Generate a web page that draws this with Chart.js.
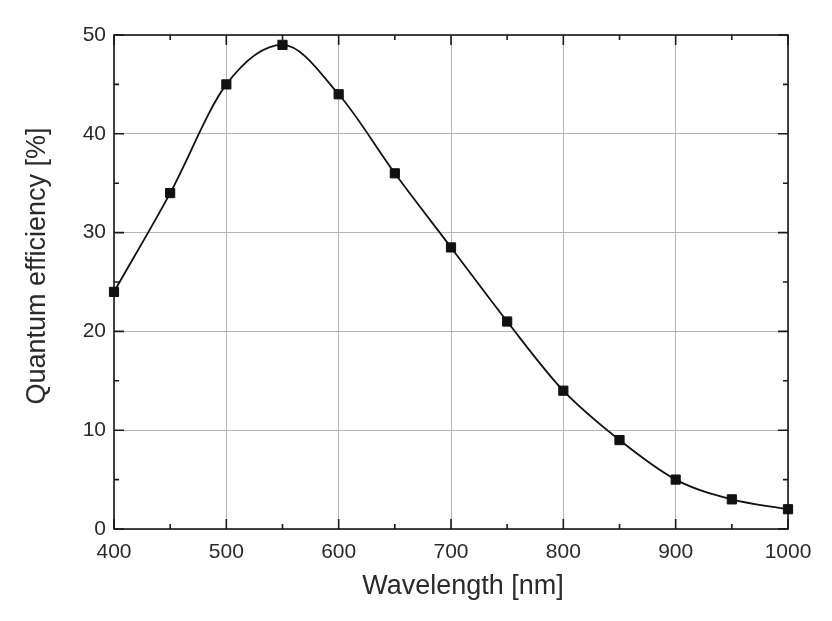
<!DOCTYPE html>
<html>
<head>
<meta charset="utf-8">
<script src="https://cdn.jsdelivr.net/npm/chart.js@4/dist/chart.umd.min.js"></script>
<style>
  html, body { margin: 0; padding: 0; background: #fff; }
  #wrap { width: 832px; height: 621px; }
</style>
</head>
<body>
<div id="wrap"><canvas id="qe-chart"></canvas></div>
<script>
const wavelengths = [400, 450, 500, 550, 600, 650, 700, 750, 800, 850, 900, 950, 1000];
const efficiency = [24, 34, 45, 49, 44, 36, 28.5, 21, 14, 9, 5, 3, 2];

const xMajor = [400, 500, 600, 700, 800, 900, 1000];
const xMinor = [450, 550, 650, 750, 850, 950];
const yMajor = [0, 10, 20, 30, 40, 50];
const yMinor = [5, 15, 25, 35, 45];

const xTitle = "Wavelength [nm]";
const yTitle = "Quantum efficiency [%]";

const textColor = "#2a2a2a";
const fontFamily = "'Liberation Sans', Arial, sans-serif";

// inward ticks on all four sides + frame
const frameTicks = {
  id: "frameTicks",
  beforeDatasetsDraw(chart) {
    const { ctx, chartArea: a, scales } = chart;
    const x = scales.x;
    const y = scales.y;
    ctx.save();
    ctx.strokeStyle = "#1a1a1a";
    ctx.lineWidth = 1.6;

    const tick = (px, len, vertical) => {
      ctx.beginPath();
      if (vertical) {
        ctx.moveTo(px, a.bottom);
        ctx.lineTo(px, a.bottom - len);
        ctx.moveTo(px, a.top);
        ctx.lineTo(px, a.top + len);
      } else {
        ctx.moveTo(a.left, px);
        ctx.lineTo(a.left + len, px);
        ctx.moveTo(a.right, px);
        ctx.lineTo(a.right - len, px);
      }
      ctx.stroke();
    };

    xMajor.forEach((v) => tick(x.getPixelForValue(v), 10, true));
    xMinor.forEach((v) => tick(x.getPixelForValue(v), 5, true));
    yMajor.forEach((v) => tick(y.getPixelForValue(v), 10, false));
    yMinor.forEach((v) => tick(y.getPixelForValue(v), 5, false));

    ctx.strokeRect(a.left, a.top, a.right - a.left, a.bottom - a.top);
    ctx.restore();
  },
};

// axis titles, placed a bit off-centre like the original figure
const axisTitles = {
  id: "axisTitles",
  afterDraw(chart) {
    const { ctx, chartArea: a } = chart;
    ctx.save();
    ctx.fillStyle = textColor;
    ctx.font = "27px " + fontFamily;
    ctx.textAlign = "center";
    ctx.textBaseline = "middle";
    ctx.fillText(xTitle, (a.left + a.right) / 2 + 12, a.bottom + 58);

    ctx.translate(a.left - 76, (a.top + a.bottom) / 2 - 16);
    ctx.rotate(-Math.PI / 2);
    ctx.fillText(yTitle, 0, 0);
    ctx.restore();
  },
};

const chartCanvas = document.getElementById("qe-chart").getContext("2d");

new Chart(chartCanvas, {
  type: "line",
  data: {
    datasets: [
      {
        label: "Quantum efficiency",
        data: wavelengths.map((w, i) => ({ x: w, y: efficiency[i] })),
        borderColor: "#111",
        backgroundColor: "#111",
        borderWidth: 1.8,
        cubicInterpolationMode: "monotone",
        pointStyle: "rect",
        pointRadius: 6.5,
        pointHoverRadius: 6.5,
        pointBorderWidth: 1,
        fill: false,
        clip: false,
      },
    ],
  },
  options: {
    responsive: true,
    maintainAspectRatio: false,
    animation: false,
    layout: { padding: { top: 35, right: 44, left: 0, bottom: 0 } },
    plugins: {
      legend: { display: false },
      tooltip: { enabled: false },
    },
    scales: {
      x: {
        type: "linear",
        min: 400,
        max: 1000,
        afterBuildTicks: (scale) => {
          scale.ticks = xMajor.map((v) => ({ value: v }));
        },
        afterFit: (scale) => {
          scale.height = 92;
        },
        grid: { color: "#b5b5b5", lineWidth: 1, drawTicks: false },
        border: { display: false },
        ticks: {
          padding: 11,
          color: textColor,
          font: { family: fontFamily, size: 21 },
          callback: (v) => String(v),
        },
      },
      y: {
        min: 0,
        max: 50,
        afterBuildTicks: (scale) => {
          scale.ticks = yMajor.map((v) => ({ value: v }));
        },
        afterFit: (scale) => {
          scale.width = 114;
        },
        grid: { color: "#b5b5b5", lineWidth: 1, drawTicks: false },
        border: { display: false },
        ticks: {
          padding: 8,
          color: textColor,
          font: { family: fontFamily, size: 21 },
          callback: (v) => String(v),
        },
      },
    },
  },
  plugins: [frameTicks, axisTitles],
});
</script>
</body>
</html>
